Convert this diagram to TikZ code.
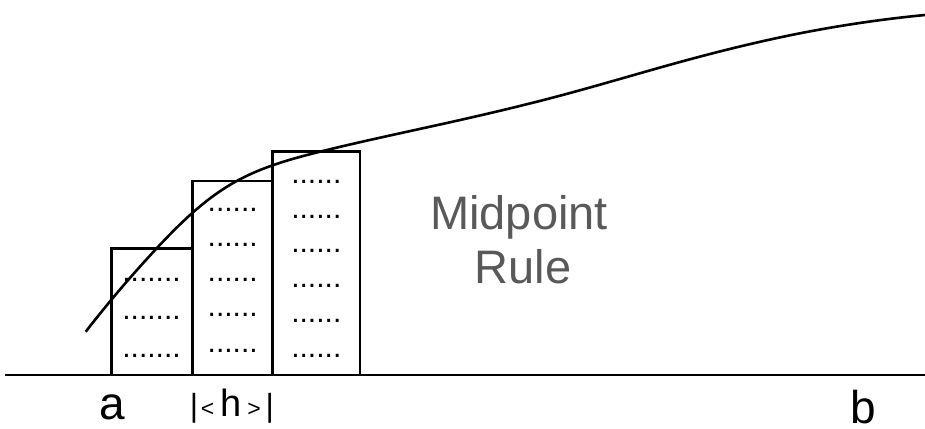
\documentclass[tikz,border=0pt]{standalone}
\usepackage{fontspec}
\setmainfont{Liberation Sans}
\usetikzlibrary{hobby}
\definecolor{labelgray}{HTML}{595959}
\tikzset{
  bar/.style={draw=black, line width=2.6pt},
  axisline/.style={draw=black, line width=2.4pt},
  curveline/.style={draw=black, line width=2.6pt},
  dotrow/.style={inner sep=0pt, anchor=base, font=\fontsize{30}{30}\selectfont},
  biglabel/.style={inner sep=0pt, anchor=base, font=\fontsize{46}{46}\selectfont},
  rulelabel/.style={inner sep=0pt, anchor=base, text=labelgray, font=\fontsize{47}{47}\selectfont}
}
\begin{document}
\begin{tikzpicture}[x=1pt,y=-1pt]
\useasboundingbox (0,0) rectangle (925,428);
% rectangles
\draw[bar] (111.7,375) rectangle (192.7,248.3);
\draw[bar] (192.7,375) rectangle (272.7,181);
\draw[bar] (272.7,375) rectangle (360,151.7);
% axis
\coordinate (axL) at (5,375);
\coordinate (axR) at (925,375);
\draw[axisline] (axL) -- (axR);
% dots
\foreach \y [count=\i] in {280,318,356}
  \node[dotrow] (da\i) at (151.5,\y+1.5) {.......};
\foreach \y [count=\i] in {210,245,280,315,350.7}
  \node[dotrow] (db\i) at (232.7,\y+1.5) {......};
\foreach \y [count=\i] in {181.7,216.7,250.7,285.7,321,356}
  \node[dotrow] (dc\i) at (316.3,\y+1.5) {......};
% curve
\coordinate (c0) at (85.7,331.7);
\coordinate (c1) at (156.7,248.3);
\coordinate (c2) at (236.7,181);
\coordinate (c3) at (320,151.7);
\coordinate (c4) at (440,124.5);
\coordinate (c5) at (560,95.7);
\coordinate (c6) at (680,62);
\coordinate (c7) at (800,33.3);
\coordinate (c8) at (925,15);
\draw[curveline, use Hobby shortcut] (c0) .. (c1) .. (c2) .. (c3) .. (c4) .. (c5) .. (c6) .. (c7) .. (c8);
% labels
\node[rulelabel] (mid1) at (519,229.3) {Midpoint};
\node[rulelabel] (mid2) at (523,283.3) {Rule};
\node[biglabel] (la) at (112.5,419) {a};
\node[biglabel] (lb) at (863,423.5) {b};
\node[inner sep=0pt, anchor=base west] (lh) at (189.6,416.7)
  {{\fontsize{32}{32}\selectfont|}\hspace{2.7pt}{\fontsize{23}{23}\selectfont<}\hspace{6.1pt}{\fontsize{38}{38}\selectfont h}\hspace{6pt}{\fontsize{23}{23}\selectfont>}\hspace{4.8pt}{\fontsize{32}{32}\selectfont|}};
\end{tikzpicture}
\end{document}
